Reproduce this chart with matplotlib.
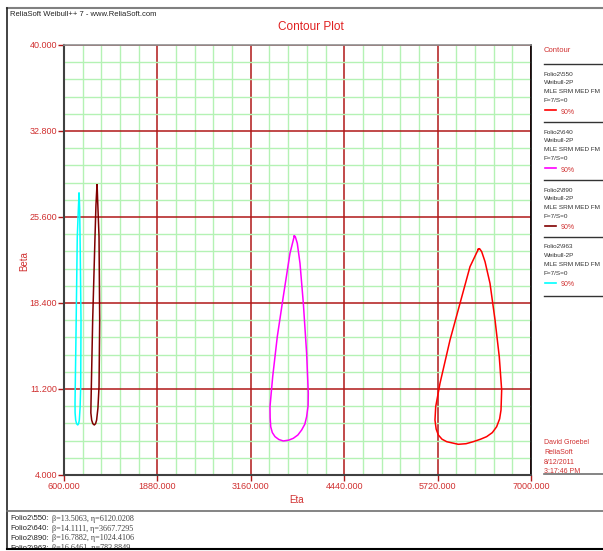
import matplotlib
matplotlib.use('Agg')
import matplotlib.pyplot as plt
from matplotlib.lines import Line2D
from matplotlib.patches import Rectangle
import numpy as np

# Axis ranges and ticks
vdXTicks = [600, 1880, 3160, 4440, 5720, 7000]
vdYTicks = [4.0, 11.2, 18.4, 25.6, 32.8, 40.0]

# Folio names, colours and parameters
vsFolios = ['Folio2\\550', 'Folio2\\640', 'Folio2\\890', 'Folio2\\963']
vsColors = ['#FF0000', '#FF00FF', '#800000', '#00FFFF']
vdBeta = [13.5063, 14.1111, 16.7882, 16.6461]
vdEta = [6120.0208, 3667.7295, 1024.4106, 783.8849]

# 90% contours (eta, beta)
vdEta550 = [6278, 6164, 6027, 5890, 5753, 5694, 5684, 5700, 5730, 5780, 5844, 6003,
            6110, 6209, 6310, 6392, 6470, 6529, 6570, 6589, 6598, 6565, 6507, 6438,
            6370, 6324, 6295, 6278]
vdBeta550 = [22.9, 21.44, 18.37, 15.30, 11.68, 9.72, 8.60, 7.85, 7.35, 7.00, 6.79, 6.57,
             6.62, 6.79, 7.00, 7.21, 7.55, 8.04, 8.70, 9.44, 11.12, 13.91, 16.98, 20.05,
             21.86, 22.70, 22.95, 22.9]

vdEta640 = [3756, 3697, 3605, 3523, 3460, 3423, 3425, 3433, 3455, 3492, 3545, 3605,
            3680, 3742, 3805, 3857, 3900, 3925, 3945, 3948, 3925, 3880, 3834, 3797,
            3770, 3756]
vdBeta640 = [24.01, 22.56, 18.93, 15.58, 12.23, 9.72, 8.80, 8.04, 7.55, 7.21, 6.97, 6.85,
             6.92, 7.07, 7.35, 7.77, 8.25, 8.88, 9.80, 10.84, 14.19, 18.38, 21.73, 23.40,
             23.95, 24.01]

vdEta890 = [1052, 1038, 1025, 993, 970, 968, 979, 995, 1015, 1033, 1047, 1065, 1080,
            1089, 1080, 1061, 1056, 1052]
vdBeta890 = [28.28, 26.6, 23.95, 16.98, 10.0, 9.20, 8.60, 8.30, 8.19, 8.30, 8.60, 9.60,
             11.39, 16.98, 23.95, 27.02, 27.90, 28.28]

vdEta963 = [806, 795, 782, 764, 751, 752, 760, 772, 788, 800, 810, 821, 829, 833, 823,
            815, 810, 806]
vdBeta963 = [27.58, 26.0, 23.95, 15.58, 10.0, 9.20, 8.60, 8.30, 8.19, 8.30, 8.60, 9.70,
             11.39, 16.98, 22.56, 26.19, 27.20, 27.58]

W, H = 603, 551
sSans = ['Liberation Sans', 'DejaVu Sans']
sLabelRed = '#D03030'

def fx(x):
    return x / W

def fy(y):
    return 1 - y / H

fig = plt.figure(figsize=(W / 100, H / 100), dpi=100)
fig.patch.set_facecolor('white')

ax = fig.add_axes([fx(64), fy(475), (531 - 64) / W, (475 - 45) / H])
ax.set_xlim(600, 7000)
ax.set_ylim(4, 40)

# Minor and major grid
ax.set_xticks(vdXTicks)
ax.set_yticks(vdYTicks)
ax.set_xticks(np.arange(600, 7001, 256), minor=True)
ax.set_yticks(np.arange(4, 40.01, 1.44), minor=True)
ax.grid(which='minor', color='#B4F2B4', linewidth=1.0, zorder=0)
ax.grid(which='major', color='#B01818', linewidth=1.1, zorder=1)
ax.tick_params(which='minor', length=0)
ax.tick_params(which='major', length=4, width=1, color='#B01818',
               labelsize=6.5, labelcolor=sLabelRed, pad=1)
ax.set_xticklabels(['%.3f' % v for v in vdXTicks], fontfamily=sSans)
ax.set_yticklabels(['%.3f' % v for v in vdYTicks], fontfamily=sSans)
ax.set_axisbelow(True)

ax.spines['left'].set_color('#404040')
ax.spines['left'].set_linewidth(1.5)
ax.spines['bottom'].set_color('#404040')
ax.spines['bottom'].set_linewidth(1.5)
ax.spines['top'].set_color('#909090')
ax.spines['top'].set_linewidth(1.2)
ax.spines['right'].set_color('black')
ax.spines['right'].set_linewidth(1.2)

fig.text(fx(297), fy(500), 'Eta', color=sLabelRed, fontsize=7, fontfamily=sSans,
         ha='center', va='center')
fig.text(fx(24), fy(261), 'Beta', color=sLabelRed, fontsize=7, fontfamily=sSans,
         ha='center', va='center', rotation=90)

# Contours
vvContours = [(vdEta550, vdBeta550), (vdEta640, vdBeta640),
              (vdEta890, vdBeta890), (vdEta963, vdBeta963)]
for (vdE, vdB), sColor in zip(vvContours, vsColors):
    ax.plot(vdE, vdB, color=sColor, linewidth=1.1, zorder=3)

# Titles
fig.text(fx(10), fy(15), 'ReliaSoft Weibull++ 7 - www.ReliaSoft.com', fontsize=5.5,
         fontfamily=sSans, color='#222222', va='center', ha='left')
fig.text(fx(311), fy(27), 'Contour Plot', fontsize=8.5, fontfamily=sSans,
         color='#E02020', va='center', ha='center')

# Outer frame lines
fig.add_artist(Line2D([fx(7), 1], [fy(8), fy(8)], color='#808080', linewidth=1.5))
fig.add_artist(Line2D([fx(7), fx(7)], [fy(8), fy(549)], color='#222222', linewidth=1.2))
fig.add_artist(Line2D([fx(7), 1], [fy(511), fy(511)], color='#707070', linewidth=1.2))

# Legend on the right
fig.text(fx(544), fy(51), 'Contour', fontsize=5.5, fontfamily=sSans,
         color=sLabelRed, va='center', ha='left')
vdSep = [64, 122, 180, 237, 296]
for i, y in enumerate(vdSep):
    fig.add_artist(Line2D([fx(544), 1], [fy(y), fy(y)], color='#333333', linewidth=1.0))
for i, (sFolio, sColor) in enumerate(zip(vsFolios, vsColors)):
    y0 = vdSep[i]
    for j, sLine in enumerate([sFolio, 'Weibull-2P', 'MLE SRM MED FM', 'F=7/S=0']):
        fig.text(fx(544), fy(y0 + 10 + 8.8 * j), sLine, fontsize=4.6, fontfamily=sSans,
                 color='#333333', va='center', ha='left')
    fig.add_artist(Line2D([fx(545), fx(556)], [fy(y0 + 46), fy(y0 + 46)],
                          color=sColor, linewidth=1.2))
    fig.text(fx(561), fy(y0 + 48), '90%', fontsize=5.0, fontfamily=sSans,
             color=sLabelRed, va='center', ha='left')

# User and date stamp
for j, sLine in enumerate(['David Groebel', 'ReliaSoft', '8/12/2011', '3:17:46 PM']):
    fig.text(fx(544), fy(443 + 9.5 * j), sLine, fontsize=5.0, fontfamily=sSans,
             color=sLabelRed, va='center', ha='left')
fig.add_artist(Line2D([fx(544), 1], [fy(474), fy(474)], color='#707070', linewidth=1.2))

# Parameter box at the bottom
for j, (sFolio, dB, dE) in enumerate(zip(vsFolios, vdBeta, vdEta)):
    y = 519 + 9.7 * j
    fig.text(fx(10), fy(y), sFolio + ':', fontsize=5.6, fontfamily=sSans,
             color='#222222', va='center', ha='left')
    fig.text(fx(52), fy(y), '\u03b2=%.4f, \u03b7=%.4f' % (dB, dE), fontsize=5.9,
             fontfamily=['Liberation Serif', 'DejaVu Serif'], color='#444444',
             va='center', ha='left')
fig.add_artist(Rectangle((0, 0), 1, fy(549), transform=fig.transFigure,
                         facecolor='white', edgecolor='none', zorder=10))
fig.add_artist(Line2D([fx(7), 1], [fy(549), fy(549)], color='black', linewidth=1.5, zorder=11))

fig.savefig('out.png', dpi=100)
